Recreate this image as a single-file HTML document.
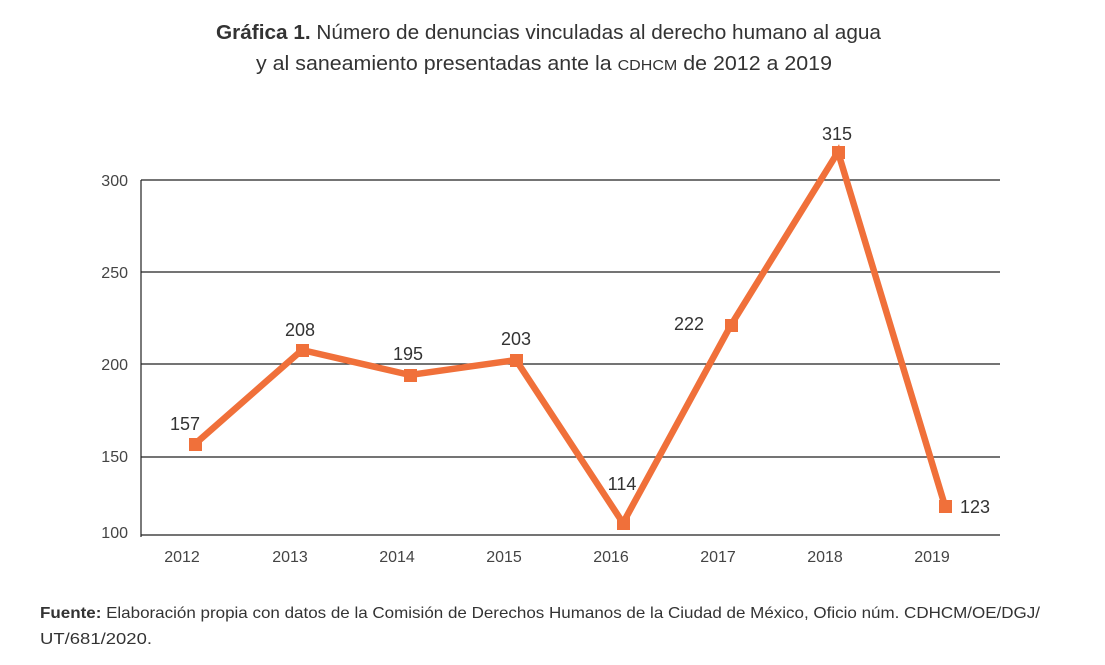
<!DOCTYPE html>
<html><head><meta charset="utf-8"><style>
body{margin:0;background:#fff;width:1105px;height:660px;overflow:hidden;font-family:"Liberation Sans",sans-serif;}
</style></head><body>
<svg width="1105" height="660" xmlns="http://www.w3.org/2000/svg" font-family="Liberation Sans, sans-serif">
<text x="216" y="39" font-size="20" fill="#333" textLength="665" lengthAdjust="spacingAndGlyphs"><tspan font-weight="bold">Gráfica 1.</tspan> Número de denuncias vinculadas al derecho humano al agua</text>
<text x="256" y="70" font-size="20" fill="#333" textLength="576" lengthAdjust="spacingAndGlyphs">y al saneamiento presentadas ante la <tspan font-size="15">CDHCM</tspan> de 2012 a 2019</text>
<g stroke="#222" stroke-width="1.2">
<line x1="141" y1="180" x2="1000" y2="180"/>
<line x1="141" y1="272" x2="1000" y2="272"/>
<line x1="141" y1="364" x2="1000" y2="364"/>
<line x1="141" y1="457" x2="1000" y2="457"/>
<line x1="141" y1="535" x2="1000" y2="535"/>
<line x1="141" y1="180" x2="141" y2="537"/>
</g>
<g font-size="16" fill="#444" text-anchor="end">
<text x="128" y="186">300</text><text x="128" y="278">250</text><text x="128" y="370">200</text><text x="128" y="462">150</text><text x="128" y="538">100</text>
</g>
<g font-size="16" fill="#444" text-anchor="middle">
<text x="182" y="562">2012</text><text x="290" y="562">2013</text><text x="397" y="562">2014</text><text x="504" y="562">2015</text><text x="611" y="562">2016</text><text x="718" y="562">2017</text><text x="825" y="562">2018</text><text x="932" y="562">2019</text>
</g>
<polyline points="195,444 302,350 410,375 516,360 623,523 731,325 838,152 945,506" fill="none" stroke="#f0703a" stroke-width="6.5" stroke-linejoin="miter"/>
<g fill="#f0703a">
<rect x="189" y="438" width="13" height="13"/><rect x="296" y="344" width="13" height="13"/><rect x="404" y="369" width="13" height="13"/><rect x="510" y="354" width="13" height="13"/><rect x="617" y="517" width="13" height="13"/><rect x="725" y="319" width="13" height="13"/><rect x="832" y="146" width="13" height="13"/><rect x="939" y="500" width="13" height="13"/>
</g>
<g font-size="18" fill="#333" text-anchor="middle">
<text x="185" y="430">157</text><text x="300" y="336">208</text><text x="408" y="360">195</text><text x="516" y="345">203</text><text x="622" y="490">114</text><text x="689" y="330">222</text><text x="837" y="140">315</text><text x="975" y="513">123</text>
</g>
<text x="40" y="618" font-size="16" fill="#333" textLength="1000" lengthAdjust="spacingAndGlyphs"><tspan font-weight="bold">Fuente:</tspan> Elaboración propia con datos de la Comisión de Derechos Humanos de la Ciudad de México, Oficio núm. CDHCM/OE/DGJ/</text>
<text x="40" y="644" font-size="16" fill="#333" textLength="112" lengthAdjust="spacingAndGlyphs">UT/681/2020.</text>
</svg>
</body></html>
